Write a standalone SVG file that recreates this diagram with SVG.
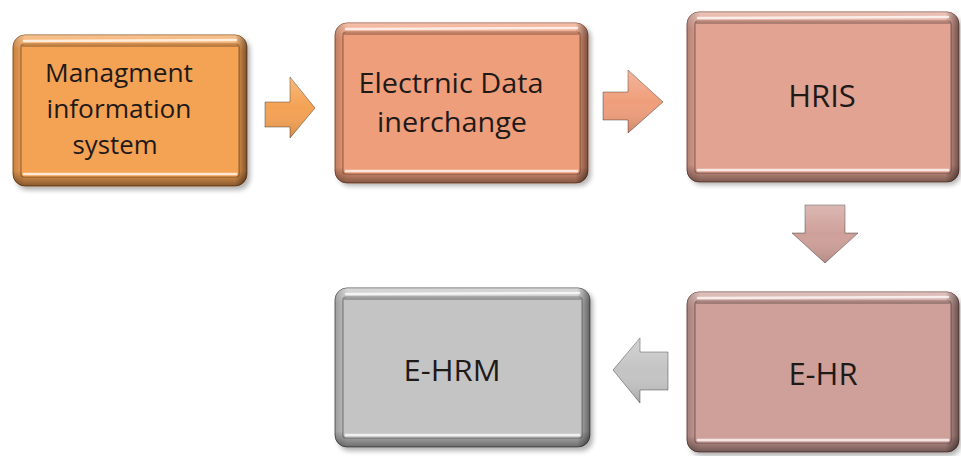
<svg xmlns="http://www.w3.org/2000/svg" width="961" height="456" viewBox="0 0 961 456">
<defs>
<filter id="sh" x="-10%" y="-10%" width="130%" height="130%"><feGaussianBlur stdDeviation="2.5"/></filter>
<linearGradient id="gv" x1="0" y1="0" x2="0" y2="1">
<stop offset="0" stop-color="#fff" stop-opacity="0.35"/>
<stop offset="0.1" stop-color="#fff" stop-opacity="0"/>
<stop offset="0.9" stop-color="#000" stop-opacity="0"/>
<stop offset="1" stop-color="#000" stop-opacity="0.45"/>
</linearGradient>
<linearGradient id="gh" x1="0" y1="0" x2="1" y2="0">
<stop offset="0" stop-color="#000" stop-opacity="0.2"/>
<stop offset="0.05" stop-color="#000" stop-opacity="0"/>
<stop offset="0.95" stop-color="#000" stop-opacity="0"/>
<stop offset="1" stop-color="#000" stop-opacity="0.5"/>
</linearGradient>
<linearGradient id="ga" x1="0" y1="0" x2="0" y2="1">
<stop offset="0" stop-color="#fff" stop-opacity="0.25"/>
<stop offset="0.5" stop-color="#fff" stop-opacity="0"/>
<stop offset="1" stop-color="#000" stop-opacity="0.15"/>
</linearGradient>
</defs>
<style>
.shadow{fill:#000;opacity:.3;filter:url(#sh)}
.ov{fill:url(#gv)}
.oh{fill:url(#gh)}
.face{stroke:#000;stroke-opacity:.35;stroke-width:1.2}
.hl{stroke:#fff;stroke-opacity:.75;stroke-width:2.5;stroke-linecap:round;fill:none}
.dk{stroke:#000;stroke-opacity:.3;stroke-width:1.5;fill:none}
.lbl{font-family:"Open Sans","Liberation Sans",sans-serif;fill:#1e1a18;text-anchor:middle}
.arr{stroke:#000;stroke-opacity:.35;stroke-width:1}
.aov{fill:url(#ga)}
.c1{fill:#F4A254}
.c2{fill:#EF9E7B}
.c3{fill:#E2A393}
.c4{fill:#C4C4C4}
.c5{fill:#CFA09A}
</style>

<g id="connectors">
<g id="a1"><polygon class="arr c1" points="265,102 290,102 290,77 315,108 290,138 290,127 265,127"/><polygon class="aov" points="265,102 290,102 290,77 315,108 290,138 290,127 265,127"/></g>
<g id="a2"><polygon class="arr c2" points="603,92 628,92 628,70 663,102 628,133 628,120 603,120"/><polygon class="aov" points="603,92 628,92 628,70 663,102 628,133 628,120 603,120"/></g>
<g id="a3"><polygon class="arr c5" points="805,205 845,205 845,233 858,233 825,263 792,233 805,233"/><polygon class="aov" points="805,205 845,205 845,233 858,233 825,263 792,233 805,233"/></g>
<g id="a4"><polygon class="arr c4" points="668,352 640,352 640,338 613,370 640,403 640,390 668,390"/><polygon class="aov" points="668,352 640,352 640,338 613,370 640,403 640,390 668,390"/></g>
</g>

<g id="n1">
<rect class="shadow" x="16" y="38" width="234" height="152" rx="12"/>
<rect class="c1" x="13" y="35" width="234" height="151" rx="12" stroke="#9a5a20" stroke-width="1"/>
<rect class="ov" x="13" y="35" width="234" height="151" rx="12"/>
<rect class="oh" x="13" y="35" width="234" height="151" rx="12"/>
<rect class="c1 face" x="21" y="44" width="218" height="133" rx="3"/>
<line class="hl" x1="24" y1="41" x2="236" y2="40"/>
<line class="hl" x1="24" y1="174" x2="236" y2="174"/>
<line class="dk" x1="22" y1="46" x2="238" y2="46"/>
<text class="lbl" x="119" y="82" font-size="26" textLength="148" lengthAdjust="spacingAndGlyphs">Managment</text>
<text class="lbl" x="119" y="118" font-size="26" textLength="145" lengthAdjust="spacingAndGlyphs">information</text>
<text class="lbl" x="115" y="154" font-size="26" textLength="85" lengthAdjust="spacingAndGlyphs">system</text>
</g>

<g id="n2">
<rect class="shadow" x="338" y="26" width="253" height="160" rx="12"/>
<rect class="c2" x="335" y="23" width="253" height="160" rx="12" stroke="#9a5a40" stroke-width="1"/>
<rect class="ov" x="335" y="23" width="253" height="160" rx="12"/>
<rect class="oh" x="335" y="23" width="253" height="160" rx="12"/>
<rect class="c2 face" x="343" y="32" width="237" height="142" rx="3"/>
<line class="hl" x1="346" y1="29" x2="577" y2="28"/>
<line class="hl" x1="346" y1="171" x2="577" y2="171"/>
<line class="dk" x1="344" y1="34" x2="579" y2="34"/>
<text class="lbl" x="451" y="93" font-size="28" textLength="185" lengthAdjust="spacingAndGlyphs">Electrnic Data</text>
<text class="lbl" x="452" y="132" font-size="28" textLength="150" lengthAdjust="spacingAndGlyphs">inerchange</text>
</g>

<g id="n3">
<rect class="shadow" x="690" y="15" width="271" height="170" rx="12"/>
<rect class="c3" x="687" y="12" width="272" height="170" rx="12" stroke="#8a5a50" stroke-width="1"/>
<rect class="ov" x="687" y="12" width="272" height="170" rx="12"/>
<rect class="oh" x="687" y="12" width="272" height="170" rx="12"/>
<rect class="c3 face" x="695" y="21" width="256" height="152" rx="3"/>
<line class="hl" x1="698" y1="18" x2="948" y2="17"/>
<line class="hl" x1="698" y1="170" x2="948" y2="170"/>
<line class="dk" x1="696" y1="23" x2="950" y2="23"/>
<text class="lbl" x="822" y="107" font-size="31">HRIS</text>
</g>

<g id="n4">
<rect class="shadow" x="338" y="291" width="255" height="160" rx="12"/>
<rect class="c4" x="335" y="288" width="255" height="159" rx="12" stroke="#666" stroke-width="1"/>
<rect class="ov" x="335" y="288" width="255" height="159" rx="12"/>
<rect class="oh" x="335" y="288" width="255" height="159" rx="12"/>
<rect class="c4 face" x="343" y="297" width="239" height="141" rx="3"/>
<line class="hl" x1="346" y1="294" x2="579" y2="293"/>
<line class="hl" x1="346" y1="435" x2="579" y2="435"/>
<line class="dk" x1="344" y1="299" x2="581" y2="299"/>
<text class="lbl" x="452" y="381" font-size="29" textLength="97" lengthAdjust="spacingAndGlyphs">E-HRM</text>
</g>

<g id="n5">
<rect class="shadow" x="690" y="295" width="271" height="161" rx="12"/>
<rect class="c5" x="687" y="292" width="272" height="160" rx="12" stroke="#7a5550" stroke-width="1"/>
<rect class="ov" x="687" y="292" width="272" height="160" rx="12"/>
<rect class="oh" x="687" y="292" width="272" height="160" rx="12"/>
<rect class="c5 face" x="695" y="301" width="256" height="142" rx="3"/>
<line class="hl" x1="698" y1="298" x2="948" y2="297"/>
<line class="hl" x1="698" y1="440" x2="948" y2="440"/>
<line class="dk" x1="696" y1="303" x2="950" y2="303"/>
<text class="lbl" x="823" y="385" font-size="31">E-HR</text>
</g>
</svg>
